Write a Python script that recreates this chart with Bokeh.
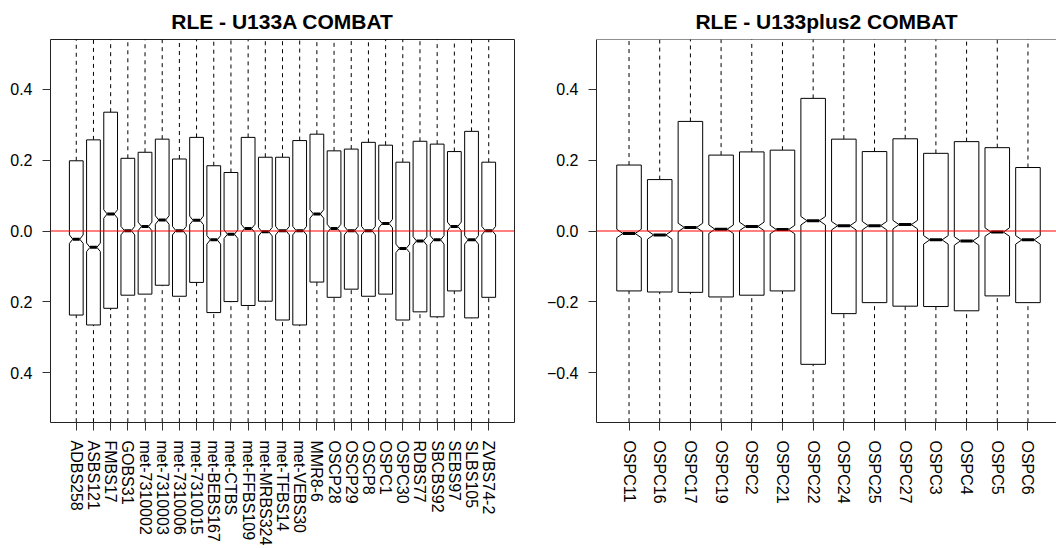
import numpy as np
from bokeh.plotting import figure
from bokeh.layouts import row
from bokeh.models import ColumnDataSource, FixedTicker, Span
from bokeh.embed import file_html
from bokeh.resources import INLINE

# ---- U133A arrays ----
u133a_samples = ["ADBS258", "ASBS121", "FMBS17", "GOBS31", "met-7310002", "met-7310003",
                 "met-7310006", "met-7310015", "met-BEBS167", "met-CTBS", "met-FFBS109",
                 "met-MRBS324", "met-TFBS14", "met-VEBS30", "MMR8-6", "OSCP28", "OSCP29",
                 "OSCP8", "OSPC1", "OSPC30", "RDBS77", "SBCBS92", "SEBS97", "SLBS105", "ZVBS74-2"]
u133a_q1 = [-0.237, -0.265, -0.218, -0.181, -0.178, -0.153, -0.184, -0.145, -0.230, -0.199,
            -0.210, -0.198, -0.251, -0.265, -0.144, -0.187, -0.164, -0.184, -0.178, -0.251,
            -0.228, -0.242, -0.169, -0.245, -0.187]
u133a_median = [-0.023, -0.046, 0.048, 0.001, 0.013, 0.031, 0.001, 0.030, -0.025, -0.009,
                0.007, -0.002, 0.001, 0.001, 0.048, 0.007, 0.001, 0.001, 0.021, -0.049,
                -0.028, -0.025, 0.013, -0.025, 0.001]
u133a_q3 = [0.198, 0.257, 0.335, 0.205, 0.222, 0.259, 0.203, 0.264, 0.184, 0.165,
            0.264, 0.208, 0.208, 0.255, 0.273, 0.226, 0.231, 0.250, 0.242, 0.194,
            0.253, 0.245, 0.224, 0.281, 0.194]
u133a_whisker_lo = [-0.9] * 25
u133a_whisker_hi = [0.9] * 25

# ---- U133plus2 arrays ----
plus2_samples = ["OSPC11", "OSPC16", "OSPC17", "OSPC19", "OSPC2", "OSPC21", "OSPC22",
                 "OSPC24", "OSPC25", "OSPC27", "OSPC3", "OSPC4", "OSPC5", "OSPC6"]
plus2_q1 = [-0.169, -0.172, -0.173, -0.186, -0.181, -0.169, -0.376,
            -0.233, -0.202, -0.212, -0.213, -0.225, -0.183, -0.202]
plus2_median = [-0.007, -0.011, 0.010, 0.005, 0.013, 0.004, 0.029,
                0.015, 0.015, 0.018, -0.025, -0.028, -0.003, -0.025]
plus2_q3 = [0.186, 0.145, 0.309, 0.214, 0.223, 0.228, 0.374,
            0.259, 0.224, 0.260, 0.219, 0.252, 0.235, 0.179]
plus2_whisker_lo = [-0.9] * 14
plus2_whisker_hi = [0.9] * 14

y_ticks = [-0.4, -0.2, 0.0, 0.2, 0.4]
Y_RANGE = (-0.54, 0.54)

FONT = "Liberation Sans"
BOX_WIDTH = 0.8      # boxwex
NOTCH_FRAC = 0.5     # waist of the notch relative to the box half-width
NOTCH_DEPTH = 0.012  # half-height of the notch
FRAME = "#222222"


def rle_panel(title, samples, q1, med, q3, lo, hi, x_range, width, border_left,
              border_right, y_overrides=None, open_right=False, title_offset=0):
    n = len(samples)
    pos = np.arange(1, n + 1)
    hw = BOX_WIDTH / 2
    xs, ys = [], []
    for x, a, m, b in zip(pos, q1, med, q3):
        xs.append([x - hw, x - hw, x - hw * NOTCH_FRAC, x - hw, x - hw,
                   x + hw, x + hw, x + hw * NOTCH_FRAC, x + hw, x + hw])
        ys.append([a, m - NOTCH_DEPTH, m, m + NOTCH_DEPTH, b,
                   b, m + NOTCH_DEPTH, m, m - NOTCH_DEPTH, a])
    src = ColumnDataSource(dict(x=pos, q1=q1, med=med, q3=q3, lo=lo, hi=hi,
                                ml=pos - hw * NOTCH_FRAC, mr=pos + hw * NOTCH_FRAC))
    box_src = ColumnDataSource(dict(xs=xs, ys=ys))

    p = figure(width=width, height=548, x_range=x_range, y_range=Y_RANGE,
               output_backend="svg", toolbar_location=None,
               min_border_left=border_left, min_border_right=border_right,
               min_border_top=36, min_border_bottom=124)
    p.title.text = title
    p.title.text_font = FONT
    p.title.text_font_size = "21px"
    p.title.text_font_style = "bold"
    p.title.align = "center"
    p.title.text_color = "black"
    p.title.text_line_height = 0.8
    p.title.standoff = 14
    p.title.offset = title_offset

    p.grid.visible = False
    p.background_fill_color = "white"
    p.border_fill_color = "white"

    # whiskers
    p.segment(x0="x", y0="q3", x1="x", y1="hi", source=src, line_color="black",
              line_width=1, line_dash="4 4")
    p.segment(x0="x", y0="lo", x1="x", y1="q1", source=src, line_color="black",
              line_width=1, line_dash="4 4")
    # notched boxes
    p.patches(xs="xs", ys="ys", source=box_src, fill_color="white",
              line_color="black", line_width=1)
    # medians
    p.segment(x0="ml", y0="med", x1="mr", y1="med", source=src, line_color="black",
              line_width=3, line_cap="butt")

    # reference line at zero
    p.add_layout(Span(location=0, dimension="width", line_color="#ff0000",
                      line_width=1, level="overlay"))

    p.xaxis.ticker = FixedTicker(ticks=list(pos))
    p.xaxis.major_label_overrides = {int(i): s for i, s in zip(pos, samples)}
    p.xaxis.major_label_orientation = "vertical"
    p.yaxis.ticker = FixedTicker(ticks=y_ticks)
    if y_overrides:
        p.yaxis.major_label_overrides = y_overrides
    for ax in (p.xaxis[0], p.yaxis[0]):
        ax.major_tick_line_color = "#333333"
        ax.major_tick_out = 8
        ax.major_tick_in = 0
        ax.minor_tick_line_color = None
        ax.major_label_text_font = FONT
        ax.major_label_text_font_size = "16px"
        ax.major_label_text_color = "black"
        ax.major_label_standoff = 10

    if open_right:
        # frame on left, bottom and top only; the panel runs on past the right edge
        p.outline_line_color = None
        for ax in (p.xaxis[0], p.yaxis[0]):
            ax.axis_line_color = FRAME
        p.add_layout(Span(location=Y_RANGE[1], dimension="width", line_color=FRAME,
                          line_width=1, level="overlay"))
    else:
        p.outline_line_color = FRAME
        p.outline_line_width = 1
        for ax in (p.xaxis[0], p.yaxis[0]):
            ax.axis_line_color = None
    return p


left = rle_panel("RLE - U133A COMBAT", u133a_samples, u133a_q1, u133a_median, u133a_q3,
                 u133a_whisker_lo, u133a_whisker_hi, (-0.5, 26.5), 534, 50, 20,
                 y_overrides={-0.4: "0.4", -0.2: "0.2", 0.0: "0.0", 0.2: "0.2", 0.4: "0.4"},
                 title_offset=7)
right = rle_panel("RLE - U133plus2 COMBAT", plus2_samples, plus2_q1, plus2_median, plus2_q3,
                  plus2_whisker_lo, plus2_whisker_hi, (-0.06, 14.93), 522, 62, 0,
                  y_overrides={0.0: "0.0"}, open_right=True)

layout = row(left, right)
open("out.html", "w").write(file_html(layout, INLINE))
